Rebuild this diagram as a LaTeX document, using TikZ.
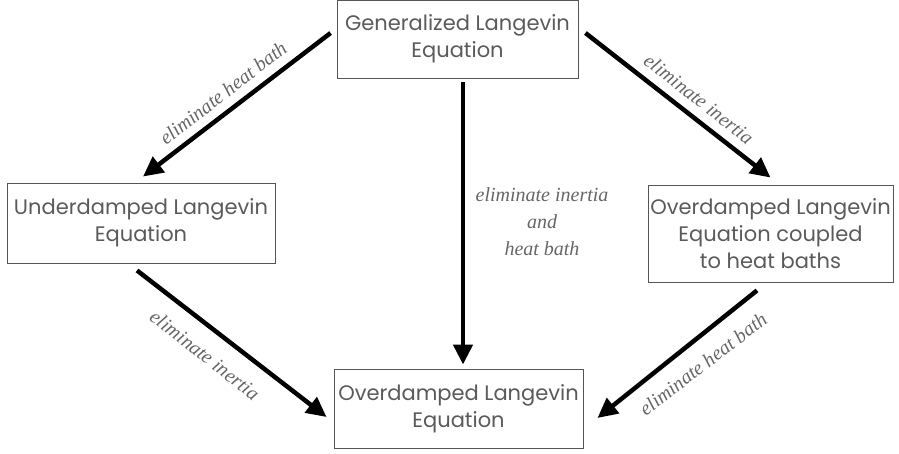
\documentclass[tikz,border=0pt]{standalone}
\usepackage{fontspec}
\setsansfont{Poppins}
\newfontfamily\labfont{Liberation Serif}
\usetikzlibrary{arrows.meta,calc}
\definecolor{boxtext}{HTML}{5A5A5A}
\definecolor{boxline}{HTML}{555555}
\definecolor{labtext}{HTML}{666666}
\tikzset{
  eqbox/.style={draw=boxline, line width=0.9pt, rectangle, align=center, text=boxtext,
    font=\sffamily\fontsize{21}{27}\selectfont, inner sep=0pt},
  arr/.style={line width=4.5pt, -{Triangle[length=20pt,width=19pt]}},
  lab/.style={text=labtext, font=\labfont\itshape\fontsize{20}{27}\selectfont, inner sep=0pt, align=center}
}
\begin{document}
\begin{tikzpicture}[x=1pt,y=-1pt]
\useasboundingbox (0,0) rectangle (899,453);
\node[eqbox, minimum width=241pt, minimum height=78pt] (gle) at (457.5,39) {Generalized Langevin\\Equation};
\node[eqbox, minimum width=268pt, minimum height=80pt] (ul) at (141,223) {Underdamped Langevin\\Equation};
\node[eqbox, minimum width=245pt, minimum height=97pt] (oc) at (770.5,233.5) {Overdamped Langevin\\Equation coupled\\to heat baths};
\node[eqbox, minimum width=249pt, minimum height=79pt] (bot) at (458.5,408.5) {Overdamped Langevin\\Equation};

\draw[arr] ($(gle.west)+(-6,-6)$) -- ($(ul.north)+(2,-6)$);
\draw[arr] ($(gle.east)+(7,-6)$) -- ($(oc.north)+(0,-7)$);
\draw[arr] ($(gle.south)+(5.5,4)$) -- ($(bot.north)+(4.5,-4)$);
\draw[arr] ($(ul.south)+(-4,7)$) -- ($(bot.west)+(-7,8.5)$);
\draw[arr] ($(oc.south)+(-13.5,8)$) -- ($(bot.east)+(14,9.5)$);

\node[lab, rotate=37.6] (l1) at (223,93) {eliminate heat bath};
\node[lab, rotate=-38] (l2) at (699,99) {eliminate inertia};
\node[lab, rotate=-38] (l3) at (205,355) {eliminate inertia};
\node[lab, rotate=37.5] (l4) at (703,364) {eliminate heat bath};
\node[lab] (l5) at (542,222) {eliminate inertia\\and\\heat bath};
\end{tikzpicture}
\end{document}
